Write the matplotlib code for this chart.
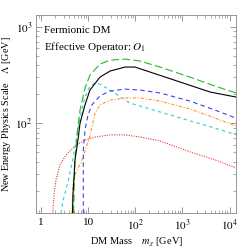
import numpy as np
import matplotlib
matplotlib.use("Agg")
import matplotlib.pyplot as plt

plt.rcParams['font.family'] = ['Liberation Serif', 'DejaVu Serif']
plt.rcParams['mathtext.fontset'] = 'stix'

# values (DM mass [GeV], Lambda [GeV])
m_black = [4.65, 4.76, 5.25, 6.08, 6.71, 8.57, 10.9, 17.8, 29.1, 60.5, 98.6, 205, 891, 3860, 13800]
L_black = [11.6, 18.1, 41.7, 67, 100, 155, 221, 301, 348, 383, 383, 340, 268, 211, 187]

m_green = [4.88, 5.25, 5.79, 6.71, 8.57, 10.9, 17.8, 29.1, 60.5, 126, 335, 1450, 4930, 13800]
L_green = [11.7, 41.7, 75.7, 137, 232, 316, 411, 452, 463, 442, 383, 301, 243, 206]

m_blue = [7.89, 7.89, 8.57, 9.9, 12.0, 17.8, 29.1, 60.5, 126, 335, 1450, 4930, 13800]
L_blue = [11.6, 53, 85, 122, 155, 192, 216, 226, 221, 206, 170, 137, 113]

m_orange = [4.54, 4.76, 5.52, 7.05, 9.0, 10.9, 14.0, 17.8, 29.1, 60.5, 126, 335, 1450, 4930, 13800]
L_orange = [11.6, 24, 31.3, 38.8, 55.4, 74, 128, 155, 174, 183, 183, 170, 141, 113, 94]

m_cyan = [2.65, 2.92, 3.55, 4.76, 5.79, 6.71, 8.57, 10.9, 14.0, 17.8, 29.1, 77, 335, 1450, 4930, 13800]
L_cyan = [11.6, 15.7, 22.3, 42.7, 75.6, 113, 187, 243, 261, 255, 221, 162, 131, 106, 89, 76]

m_red = [1.77, 1.88, 2.08, 2.52, 3.38, 5.25, 8.57, 14.0, 29.1, 60.5, 126, 335, 1450, 4930, 13800]
L_red = [11.6, 18.1, 25.9, 37, 47, 58, 67, 72, 75.7, 75.7, 72, 65.6, 50.5, 41.7, 34.4]

xticks = [1, 10, 100, 1000, 10000]
xticklabels = ['1', '10', r'$10^2$', r'$10^3$', r'$10^4$']
yticks = [100, 1000]
yticklabels = [r'$10^2$', r'$10^3$']

fig = plt.figure(figsize=(2.4, 2.52), dpi=100)
ax = fig.add_axes([0.152, 0.153, 0.833, 0.789])

lw = 0.8
ax.plot(m_red, L_red, color='#ee3333', lw=lw, ls=(0, (1, 1.2)))
ax.plot(m_cyan, L_cyan, color='#33cccc', lw=lw, ls=(0, (3, 3)))
ax.plot(m_orange, L_orange, color='#ff9922', lw=lw, ls=(0, (3, 1.5, 1, 1.5)))
ax.plot(m_blue, L_blue, color='#3344ee', lw=lw, ls=(0, (4, 3)))
ax.plot(m_green, L_green, color='#22bb22', lw=lw, ls=(0, (7, 3)))
ax.plot(m_black, L_black, color='black', lw=lw)

ax.set_xscale('log')
ax.set_yscale('log')
ax.set_xlim(0.8, 14000)
ax.set_ylim(11.6, 1340)
ax.set_xticks(xticks)
ax.set_xticklabels(xticklabels)
ax.set_yticks(yticks)
ax.set_yticklabels(yticklabels)
ax.tick_params(which='both', direction='in', top=True, right=True, labelsize=8, pad=3,
               color='#888888', labelcolor='black')
ax.tick_params(which='major', length=4, width=0.6)
ax.tick_params(which='minor', length=2, width=0.5)
for s in ax.spines.values():
    s.set_color('#888888')
    s.set_linewidth(0.6)

ax.set_xlabel(r'DM Mass    $m_\chi$ [GeV]', fontsize=7.5, labelpad=2)
ax.set_ylabel(r'New Energy Physics Scale    $\Lambda$ [GeV]', fontsize=7.3, labelpad=2)

ax.text(0.04, 0.92, 'Fermionic DM', transform=ax.transAxes, fontsize=8, va='center')
ax.text(0.04, 0.835, r'Effective Operator: $O_1$', transform=ax.transAxes, fontsize=8, va='center')

fig.savefig('out.png', dpi=100)
